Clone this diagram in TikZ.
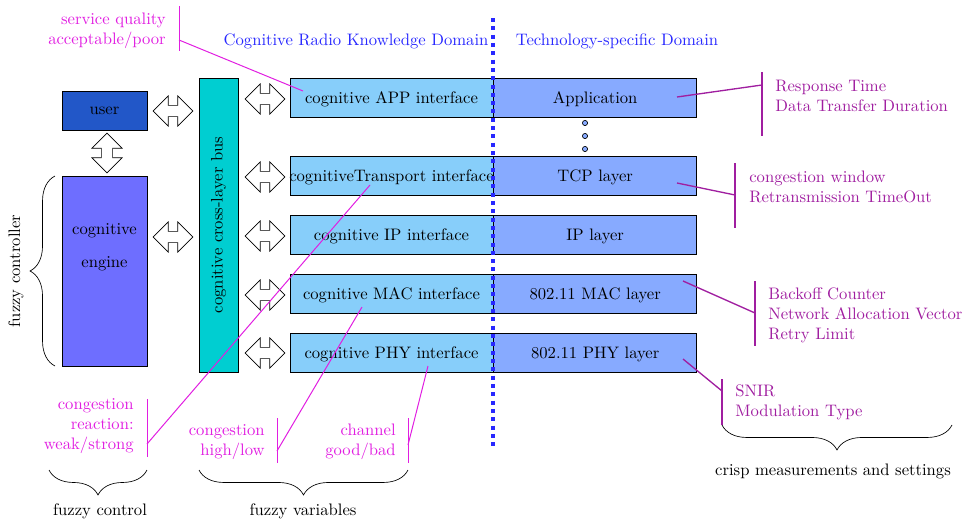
\documentclass[tikz,border=0pt]{standalone}
\usepackage{amsmath}
\usepackage{tikz}
\usetikzlibrary{positioning,shapes.arrows,decorations.pathreplacing}

\definecolor{userblue}{RGB}{34,87,200}
\definecolor{engineblue}{RGB}{110,110,255}
\definecolor{busteal}{RGB}{0,206,209}
\definecolor{ifaceblue}{RGB}{135,206,250}
\definecolor{layerblue}{RGB}{135,170,255}
\definecolor{fuzzymag}{RGB}{225,30,225}
\definecolor{crisppurp}{RGB}{160,30,160}
\definecolor{domblue}{RGB}{40,40,255}

\begin{document}
\begin{tikzpicture}[x=0.2113cm,y=-0.2113cm,
	box/.style={rectangle,draw,inner sep=0pt},
	iface/.style={box,fill=ifaceblue,minimum width=4.29cm,minimum height=0.824cm,text depth=-2pt},
	layer/.style={box,fill=layerblue,minimum width=4.29cm,minimum height=0.824cm,text depth=-2pt},
	dblarrow/.style={double arrow,draw,fill=white,inner sep=3.2pt,minimum height=0.84cm,double arrow head extend=0.2cm},
	fuzzy/.style={fuzzymag,align=right,inner sep=0pt},
	crisp/.style={crisppurp,align=left,inner sep=0pt},
	fuzzyline/.style={fuzzymag,line width=0.6pt},
	crispline/.style={crisppurp,line width=0.8pt},
	brc/.style={decorate,decoration={brace,amplitude=15pt}},
	dotnode/.style={circle,draw,fill=layerblue,inner sep=0pt,minimum size=1.1mm}]
	
	\useasboundingbox (0,0) rectangle (96.8,52.4);
	
	% left side
	\node [box,fill=userblue,minimum width=1.8cm,minimum height=0.824cm] (user) at (10.45,11.05) {user};
	\node [box,fill=engineblue,minimum width=1.8cm,minimum height=4.01cm,
		label={[align=center,yshift=0.5cm]center:cognitive\\[8pt]engine}] (engine) at (10.45,27.1) {};
	\node [box,fill=busteal,rotate=90,minimum width=6.21cm,minimum height=0.824cm] (bus) at (21.85,22.5) {cognitive cross-layer bus};
	
	% interfaces and layers
	\node [iface] (app) at (39.15,9.75) {cognitive APP interface};
	\node [iface] (trn) at (39.15,17.55) {\makebox[0pt]{cognitiveTransport interface}};
	\node [iface] (ip) at (39.15,23.45) {cognitive IP interface};
	\node [iface] (mac) at (39.15,29.35) {cognitive MAC interface};
	\node [iface] (phy) at (39.15,35.25) {cognitive PHY interface};
	\node [layer,right=0pt of app] (appl) {Application};
	\node [layer,right=0pt of trn] (tcpl) {TCP layer};
	\node [layer,right=0pt of ip] (ipl) {IP layer};
	\node [layer,right=0pt of mac] (macl) {802.11 MAC layer};
	\node [layer,right=0pt of phy] (phyl) {802.11 PHY layer};
	
	\node [dotnode] (d1) at (58.5,12.3) {};
	\node [dotnode] (d2) at (58.5,13.6) {};
	\node [dotnode] (d3) at (58.5,14.9) {};
	
	% double arrows
	\node [dblarrow] (a0) at (17.3,11.1) {};
	\node [dblarrow] (a1) at (17.3,23.7) {};
	\node [dblarrow,rotate=90] (a2) at (10.7,15.3) {};
	\node [dblarrow] (a3) at (26.5,9.9) {};
	\node [dblarrow] (a4) at (26.5,17.7) {};
	\node [dblarrow] (a5) at (26.5,23.6) {};
	\node [dblarrow] (a6) at (26.5,29.5) {};
	\node [dblarrow] (a7) at (26.5,35.3) {};
	
	% domain border
	\draw [domblue,line width=2pt,dash pattern=on 2.4pt off 2.6pt] (49.3,1.8) -- (49.3,45.0);
	\node [domblue] (crk) at (35.6,4.1) {Cognitive Radio Knowledge Domain};
	\node [domblue] (tsd) at (61.7,4.1) {Technology-specific Domain};
	
	% fuzzy variables
	\node [fuzzy,anchor=east] (sq) at (16.6,3.05) {service quality\\acceptable/poor};
	\node [fuzzy,anchor=east] (cr) at (13.4,42.6) {congestion\\reaction:\\weak/strong};
	\node [fuzzy,anchor=east] (hl) at (26.5,44.2) {congestion\\high/low};
	\node [fuzzy,anchor=east] (gb) at (39.6,44.2) {channel\\good/bad};
	\draw [fuzzyline] (17.9,0.6) -- (17.9,5.1);
	\draw [fuzzyline] (14.7,39.9) -- (14.7,45.7);
	\draw [fuzzyline] (27.7,41.8) -- (27.7,46.3);
	\draw [fuzzyline] (40.8,41.8) -- (40.8,46.3);
	\coordinate (sq0) at (17.9,4.0);
	\coordinate (sq1) at (30.3,9.1);
	\coordinate (cr0) at (14.7,44.4);
	\coordinate (cr1) at (37.0,18.5);
	\coordinate (hl0) at (27.7,45.1);
	\coordinate (hl1) at (36.2,30.7);
	\coordinate (gb0) at (40.8,44.5);
	\coordinate (gb1) at (42.8,36.6);
	\draw [fuzzyline] (sq0) -- (sq1);
	\draw [fuzzyline] (cr0) -- (cr1);
	\draw [fuzzyline] (hl0) -- (hl1);
	\draw [fuzzyline] (gb0) -- (gb1);
	
	% crisp measurements
	\node [crisp,anchor=west] (rt) at (77.5,9.55) {Response Time\\Data Transfer Duration};
	\node [crisp,anchor=west] (cw) at (74.9,18.7) {congestion window\\Retransmission TimeOut};
	\node [crisp,anchor=west] (bo) at (76.8,31.5) {Backoff Counter\\Network Allocation Vector\\Retry Limit};
	\node [crisp,anchor=west] (sn) at (73.5,40.2) {SNIR\\Modulation Type};
	\draw [crispline] (76.2,7.2) -- (76.2,13.6);
	\draw [crispline] (73.5,16.3) -- (73.5,22.8);
	\draw [crispline] (75.5,28.1) -- (75.5,34.6);
	\draw [crispline] (72.2,37.9) -- (72.2,42.5);
	\coordinate (rt0) at (76.2,8.5);
	\coordinate (rt1) at (67.7,9.7);
	\coordinate (cw0) at (73.5,19.5);
	\coordinate (cw1) at (67.7,18.3);
	\coordinate (bo0) at (75.5,31.3);
	\coordinate (bo1) at (68.3,28.1);
	\coordinate (sn0) at (72.2,39.1);
	\coordinate (sn1) at (68.3,35.9);
	\draw [crispline] (rt0) -- (rt1);
	\draw [crispline] (cw0) -- (cw1);
	\draw [crispline] (bo0) -- (bo1);
	\draw [crispline] (sn0) -- (sn1);
	
	% braces
	\draw [brc] (5.5,36.6) -- (5.5,17.6);
	\node [rotate=90] (fc) at (1.6,27.1) {fuzzy controller};
	\draw [brc] (14.7,47.0) -- (4.9,47.0);
	\node (fctl) at (10.0,51.1) {fuzzy control};
	\draw [brc] (40.8,47.0) -- (19.9,47.0);
	\node (fv) at (30.3,51.1) {fuzzy variables};
	\draw [brc] (95.2,42.5) -- (72.2,42.5);
	\node (cms) at (83.3,47.1) {crisp measurements and settings};
\end{tikzpicture}
\end{document}
